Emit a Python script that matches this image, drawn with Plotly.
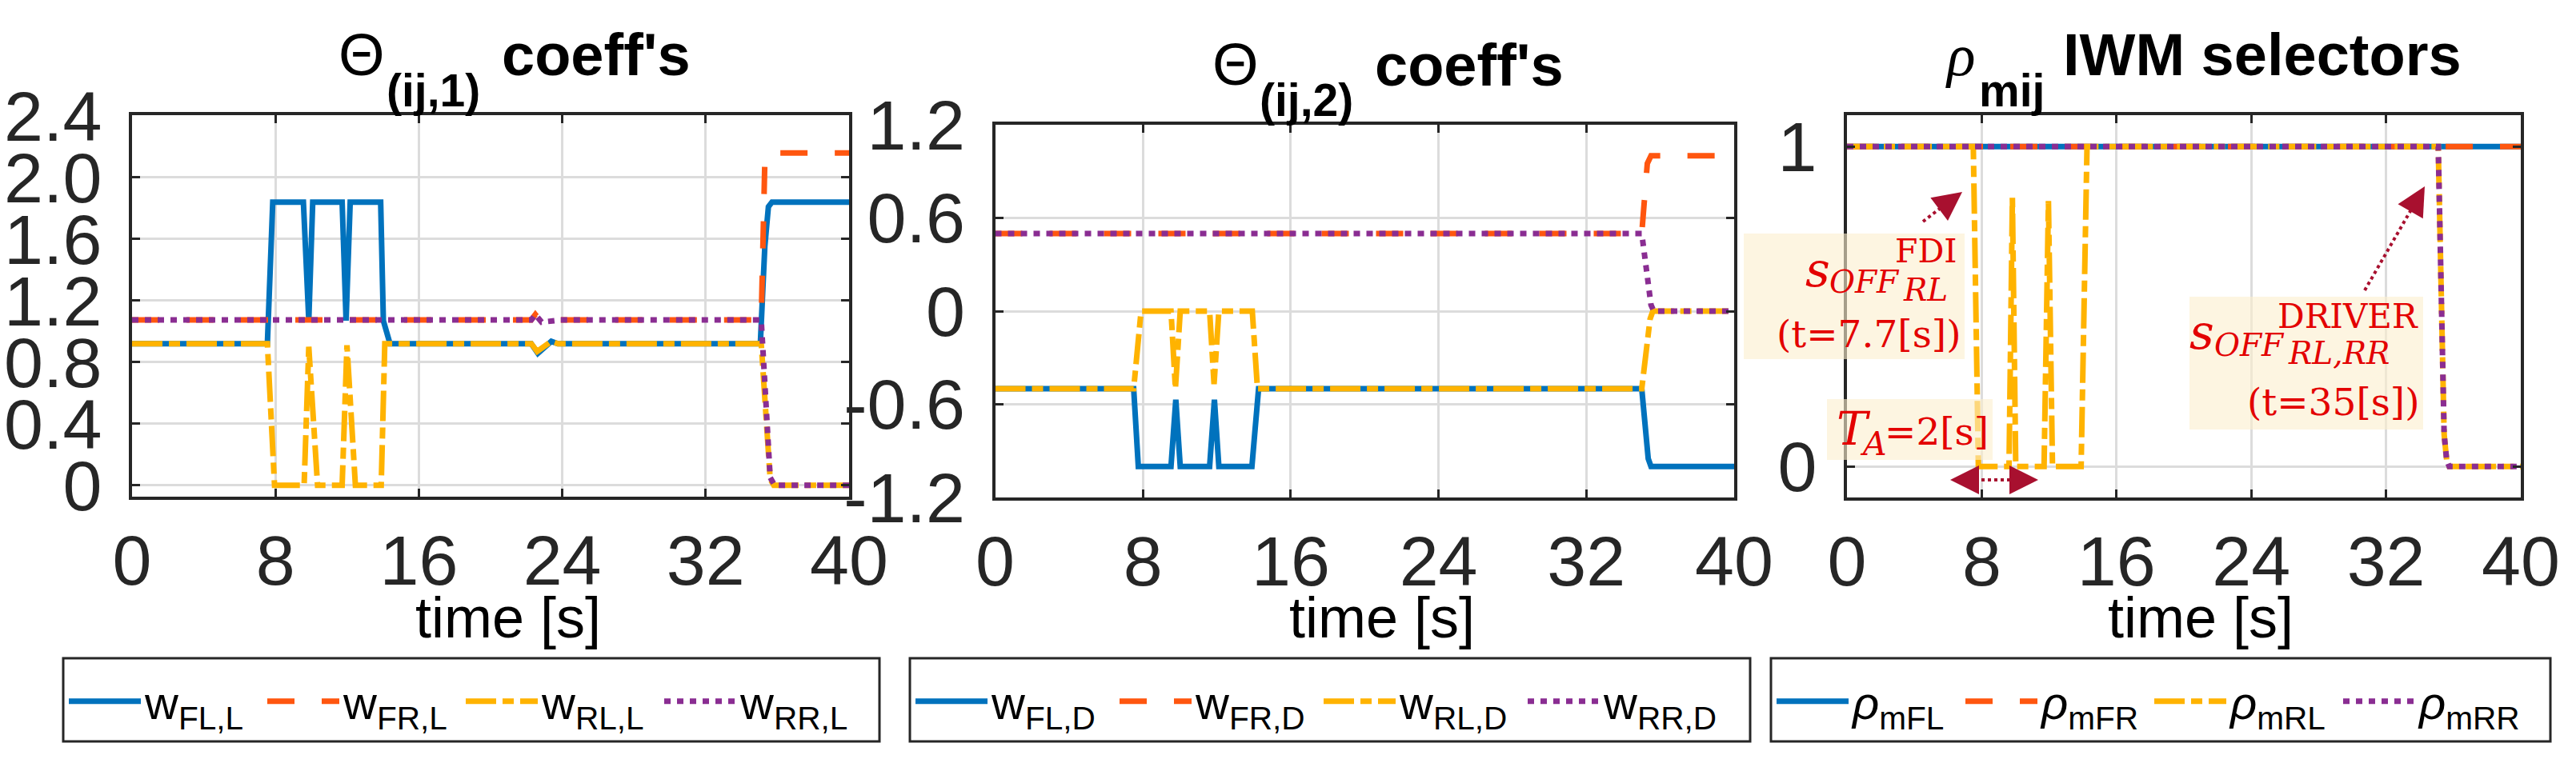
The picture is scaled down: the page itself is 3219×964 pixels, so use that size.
import plotly.graph_objects as go

W, H = 3219, 964

# ---------------- data ----------------
x_ticks = [0, 8, 16, 24, 32, 40]
x_tick_labels = ["0", "8", "16", "24", "32", "40"]

y1_ticks = [0, 0.4, 0.8, 1.2, 1.6, 2.0, 2.4]
y1_tick_labels = ["0", "0.4", "0.8", "1.2", "1.6", "2.0", "2.4"]
y2_ticks = [-1.2, -0.6, 0, 0.6, 1.2]
y2_tick_labels = ["-1.2", "-0.6", "0", "0.6", "1.2"]
y3_ticks = [0, 1]
y3_tick_labels = ["0", "1"]

# Panel 1 : Theta_(ij,1) coefficients
t_FL_L = [0, 7.55, 7.85, 9.56, 9.86, 10.08, 11.72, 11.94, 12.17, 13.87, 14.02, 14.39,
          22.27, 22.64, 23.39, 23.76, 35.05, 35.3, 35.5, 35.7, 40]
w_FL_L = [0.92, 0.92, 1.84, 1.84, 1.07, 1.84, 1.84, 1.07, 1.84, 1.84, 1.07, 0.92,
          0.92, 0.857, 0.935, 0.92, 0.92, 1.55, 1.81, 1.84, 1.84]
t_FR_L = [0, 22.27, 22.5, 22.85, 23.9, 35.1, 35.3, 35.45, 40]
w_FR_L = [1.074, 1.074, 1.11, 1.06, 1.074, 1.074, 2.1, 2.16, 2.16]
t_RL_L = [0, 7.55, 7.95, 9.6, 9.86, 10.35, 11.72, 11.99, 12.46, 13.9, 14.1,
          22.27, 22.6, 23.39, 23.76, 35.1, 35.6, 35.8, 40]
w_RL_L = [0.92, 0.92, 0.0, 0.0, 0.90, 0.0, 0.0, 0.91, 0.0, 0.0, 0.92,
          0.92, 0.87, 0.935, 0.92, 0.92, 0.04, 0.0, 0.0]
t_RR_L = [0, 22.27, 22.5, 22.85, 23.9, 35.1, 35.6, 35.85, 40]
w_RR_L = [1.074, 1.074, 1.11, 1.06, 1.074, 1.074, 0.05, 0.0, 0.0]

# Panel 2 : Theta_(ij,2) coefficients
t_FL_D = [0, 7.5, 7.75, 9.52, 9.78, 10.02, 11.61, 11.87, 12.11, 13.9, 14.26, 35.0, 35.35, 35.5, 40]
w_FL_D = [-0.5, -0.5, -1.0, -1.0, -0.57, -1.0, -1.0, -0.57, -1.0, -1.0, -0.5, -0.5, -0.95, -1.0, -1.0]
t_FR_D = [0, 35.0, 35.3, 35.5, 40]
w_FR_D = [0.5, 0.5, 0.95, 1.0, 1.0]
t_RL_D = [0, 7.5, 7.9, 9.52, 9.76, 10.02, 11.61, 11.85, 12.11, 13.92, 14.2, 35.0, 35.45, 35.6, 40]
w_RL_D = [-0.5, -0.5, 0.0, 0.0, -0.5, 0.0, 0.0, -0.47, 0.0, 0.0, -0.5, -0.5, -0.05, 0.0, 0.0]
t_RR_D = [0, 35.0, 35.5, 35.65, 40]
w_RR_D = [0.5, 0.5, 0.04, 0.0, 0.0]

# Panel 3 : rho_mij IWM selectors
t_mFL = [0, 40]
rho_mFL = [1, 1]
t_mFR = [0, 40]
rho_mFR = [1, 1]
t_mRL = [0, 7.5, 7.8, 9.62, 9.82, 10.02, 11.7, 11.96, 12.2, 13.9, 14.25, 35.1, 35.45, 35.6, 35.75, 40]
rho_mRL = [1, 1, 0, 0, 0.84, 0, 0, 0.83, 0, 0, 1, 1, 0.1, 0.02, 0, 0]
t_mRR = [0, 35.1, 35.45, 35.6, 35.75, 40]
rho_mRR = [1, 1, 0.1, 0.02, 0, 0]

names_L = ["w<sub>FL,L</sub>", "w<sub>FR,L</sub>", "w<sub>RL,L</sub>", "w<sub>RR,L</sub>"]
names_D = ["w<sub>FL,D</sub>", "w<sub>FR,D</sub>", "w<sub>RL,D</sub>", "w<sub>RR,D</sub>"]
names_R = ["<i>ρ</i><sub>mFL</sub>", "<i>ρ</i><sub>mFR</sub>", "<i>ρ</i><sub>mRL</sub>", "<i>ρ</i><sub>mRR</sub>"]

# ---------------- styles ----------------
C_BLUE, C_ORANGE, C_YELLOW, C_PURPLE = "#0072BD", "#FF560F", "#FFB300", "#8A2D92"
STYLES = [
    dict(color=C_BLUE, width=7, dash="solid"),
    dict(color=C_ORANGE, width=7, dash="34px,34px"),
    dict(color=C_YELLOW, width=7, dash="38px,8px,14px,8px"),
    dict(color=C_PURPLE, width=7, dash="8px,8px"),
]
AX = "#262626"
RED = "#E30000"
DARKRED = "#A8102F"
SANS = "Liberation Sans, Arial, sans-serif"
SERIF = "DejaVu Serif, serif"


def px(x):
    return x / W


def py(y):
    return 1 - y / H


fig = go.Figure()

panels = [
    ("x", "y", "legend", [(t_FL_L, w_FL_L), (t_FR_L, w_FR_L), (t_RL_L, w_RL_L), (t_RR_L, w_RR_L)], names_L),
    ("x2", "y2", "legend2", [(t_FL_D, w_FL_D), (t_FR_D, w_FR_D), (t_RL_D, w_RL_D), (t_RR_D, w_RR_D)], names_D),
    ("x3", "y3", "legend3", [(t_mFL, rho_mFL), (t_mFR, rho_mFR), (t_mRL, rho_mRL), (t_mRR, rho_mRR)], names_R),
]
for xa, ya, lg, series, names in panels:
    for (tt, vv), nm, st in zip(series, names, STYLES):
        fig.add_trace(go.Scatter(x=tt, y=vv, mode="lines", name=nm, line=st,
                                 xaxis=xa, yaxis=ya, legend=lg, hoverinfo="skip"))

common = dict(showgrid=True, gridcolor="#dcdcdc", gridwidth=2.5, showline=True,
              linecolor=AX, linewidth=4, mirror="ticks", ticks="inside", ticklen=10,
              tickwidth=3, tickcolor=AX, zeroline=False, automargin=False,
              tickfont=dict(family=SANS, size=88, color=AX), fixedrange=True)

xdoms = [(165, 1061), (1243.5, 2167), (2308, 3150)]
ydoms = [(144, 621), (156, 622), (144, 622)]
yranges = [[-0.074, 2.405], [-1.2, 1.2], [-0.097, 1.098]]
yt = [(y1_ticks, y1_tick_labels), (y2_ticks, y2_tick_labels), (y3_ticks, y3_tick_labels)]

layout = dict(width=W, height=H, autosize=False,
              margin=dict(l=0, r=0, t=0, b=0, pad=0, autoexpand=False),
              paper_bgcolor="white", plot_bgcolor="white", showlegend=True)
for i in range(3):
    sx = "xaxis" if i == 0 else f"xaxis{i + 1}"
    sy = "yaxis" if i == 0 else f"yaxis{i + 1}"
    anchor_x = "y" if i == 0 else f"y{i + 1}"
    anchor_y = "x" if i == 0 else f"x{i + 1}"
    layout[sx] = dict(common, domain=[px(xdoms[i][0]), px(xdoms[i][1])], range=[0, 40],
                      tickvals=x_ticks, ticktext=x_tick_labels, anchor=anchor_x,
                      ticklabelstandoff=0)
    layout[sy] = dict(common, domain=[py(ydoms[i][1]), py(ydoms[i][0])], range=yranges[i],
                      tickvals=yt[i][0], ticktext=yt[i][1], anchor=anchor_y,
                      ticklabelstandoff=16)

# legend boxes (frames drawn as shapes, legends centred inside them)
leg_boxes = [(79, 1099), (1137, 2187), (2213, 3187)]
leg_entry = [143, 150, 131]
leg_common = dict(orientation="h", xanchor="left", yanchor="middle", bgcolor="rgba(0,0,0,0)",
                  borderwidth=0, itemwidth=90,
                  font=dict(family=SANS, size=58, color="black"),
                  entrywidthmode="pixels")
for i, key in enumerate(["legend", "legend2", "legend3"]):
    layout[key] = dict(leg_common, x=px(leg_boxes[i][0] + 2), y=py(877), entrywidth=leg_entry[i])
fig.update_layout(**layout)

anns = []


def ann(text, x, y, size, family=SANS, color="black", xanchor="left", yanchor="middle"):
    anns.append(dict(text=text, x=px(x), y=py(y), xref="paper", yref="paper",
                     xanchor=xanchor, yanchor=yanchor, showarrow=False,
                     font=dict(family=family, size=size, color=color)))


# titles
ann("Θ", 421, 69, 74)
ann("<b>(ij,1)</b>", 481, 113, 57)
ann("<b>coeff's</b>", 625, 69, 74)
ann("Θ", 1513, 80, 74)
ann("<b>(ij,2)</b>", 1572, 125, 57)
ann("<b>coeff's</b>", 1716, 81, 74)
ann("<i>ρ</i>", 2429, 69, 74, family="Liberation Serif, serif")
ann("<b>mij</b>", 2471, 113, 57)
ann("<b>IWM selectors</b>", 2576, 69, 74)

# axis titles
for cx in (635, 1727, 2750):
    ann("time [s]", cx, 772, 72, xanchor="center")

# red annotation texts
ann("FDI", 2448, 314, 41, family=SERIF, color=RED, xanchor="right")
ann("<i>s</i>", 2254, 337, 60, family=SERIF, color=RED)
ann("<i>OFF</i>", 2284, 352, 39, family=SERIF, color=RED)
ann("<i>RL</i>", 2376, 362, 39, family=SERIF, color=RED)
ann("(t=7.7[s])", 2452, 417, 47, family=SERIF, color=RED, xanchor="right")

ann("<i>T</i>", 2293, 536, 58, family=SERIF, color=RED)
ann("<i>A</i>", 2322, 555, 41, family=SERIF, color=RED)
ann("=2[s]", 2353, 539, 47, family=SERIF, color=RED)

ann("DRIVER", 3024, 395, 42, family=SERIF, color=RED, xanchor="right")
ann("<i>s</i>", 2734, 415, 60, family=SERIF, color=RED)
ann("<i>OFF</i>", 2765, 432, 39, family=SERIF, color=RED)
ann("<i>RL,RR</i>", 2857, 442, 39, family=SERIF, color=RED)
ann("(t=35[s])", 3026, 502, 47, family=SERIF, color=RED, xanchor="right")


# arrow heads
def head(x, y, ax, ay):
    anns.append(dict(text="", x=px(x), y=py(y), xref="paper", yref="paper",
                     showarrow=True, ax=ax, ay=ay, arrowhead=2, arrowsize=1.8,
                     arrowwidth=4, arrowcolor=DARKRED))


head(2452, 240, -20, 15)
head(3030, 233, -12, 21)
head(2437, 600, 26, 0)
head(2547, 600, -26, 0)

fig.update_layout(annotations=anns)

shapes = []
for (x0, x1) in leg_boxes:
    shapes.append(dict(type="rect", xref="paper", yref="paper", x0=px(x0), x1=px(x1),
                       y0=py(927), y1=py(823), fillcolor="white",
                       line=dict(color=AX, width=3), layer="above"))
for (x0, y0, x1, y1) in [(2179, 292, 2455, 449), (2283, 499, 2490, 575), (2736, 371, 3028, 537)]:
    shapes.append(dict(type="rect", xref="paper", yref="paper", x0=px(x0), x1=px(x1),
                       y0=py(y1), y1=py(y0), fillcolor="rgba(252,238,205,0.6)",
                       line=dict(width=0), layer="above"))
for (x0, y0, x1, y1) in [(2403, 277, 2438, 250), (2955, 363, 3020, 250), (2460, 600, 2526, 600)]:
    shapes.append(dict(type="line", xref="paper", yref="paper", x0=px(x0), x1=px(x1),
                       y0=py(y0), y1=py(y1), line=dict(color=DARKRED, width=4, dash="dot"),
                       layer="above"))
fig.update_layout(shapes=shapes)

fig.write_html("out.html", config={"displayModeBar": False},
               post_script="document.body.style.margin='0';document.body.style.overflow='hidden';")
